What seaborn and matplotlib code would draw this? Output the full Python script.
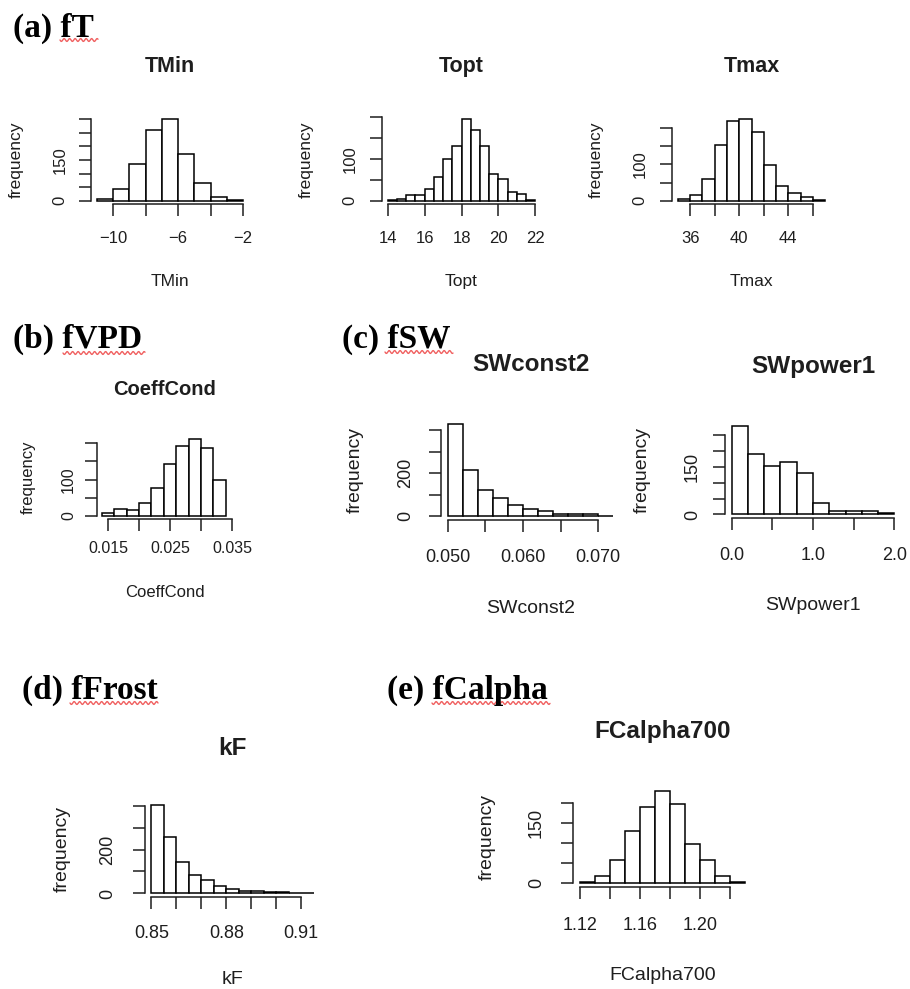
import numpy as np
import matplotlib
matplotlib.use('Agg')
import matplotlib.pyplot as plt
from matplotlib.lines import Line2D
import seaborn as sns

W, H = 910, 989

# ---- data (bin edges + counts) ----
tmin_edges = [-11, -10, -9, -8, -7, -6, -5, -4, -3, -2]
tmin_counts = [8, 42, 135, 259, 300, 172, 66, 13, 3]

topt_edges = [14.0, 14.5, 15.0, 15.5, 16.0, 16.5, 17.0, 17.5, 18.0,
              18.5, 19.0, 19.5, 20.0, 20.5, 21.0, 21.5, 22.0]
topt_counts = [1, 4, 14, 14, 27, 58, 100, 131, 195, 170, 131, 63, 51, 20, 15, 2]

tmax_edges = [35, 36, 37, 38, 39, 40, 41, 42, 43, 44, 45, 46, 47]
tmax_counts = [6, 16, 59, 152, 219, 224, 189, 99, 41, 22, 9, 2]

coeff_edges = [0.014, 0.016, 0.018, 0.020, 0.022, 0.024, 0.026, 0.028, 0.030, 0.032, 0.034]
coeff_counts = [7, 19, 15, 36, 78, 142, 191, 211, 186, 98]

swc_edges = [0.050, 0.052, 0.054, 0.056, 0.058, 0.060, 0.062, 0.064, 0.066, 0.068, 0.070, 0.072]
swc_counts = [430, 216, 122, 86, 52, 34, 25, 12, 12, 10, 3]

swp_edges = [0.0, 0.2, 0.4, 0.6, 0.8, 1.0, 1.2, 1.4, 1.6, 1.8, 2.0]
swp_counts = [280, 190, 153, 166, 129, 37, 11, 11, 11, 4]

kf_edges = [0.850, 0.855, 0.860, 0.865, 0.870, 0.875, 0.880, 0.885,
            0.890, 0.895, 0.900, 0.905, 0.910, 0.915]
kf_counts = [405, 258, 144, 83, 61, 36, 18, 12, 10, 5, 5, 3, 1]

fca_edges = [1.12, 1.13, 1.14, 1.15, 1.16, 1.17, 1.18, 1.19, 1.20, 1.21, 1.22, 1.23]
fca_counts = [2, 19, 58, 131, 190, 232, 198, 98, 58, 19, 2]

# ---- tick positions / labels (R drops labels that would overlap) ----
tmin_xticks = [-10, -8, -6, -4, -2]
tmin_xlabels = ['\u221210', '', '\u22126', '', '\u22122']
tmin_yticks = [0, 50, 100, 150, 200, 250, 300]
tmin_ylabels = ['0', '', '', '150', '', '', '']

topt_xticks = [14, 16, 18, 20, 22]
topt_xlabels = ['14', '16', '18', '20', '22']
topt_yticks = [0, 50, 100, 150, 200]
topt_ylabels = ['0', '', '100', '', '']

tmax_xticks = [36, 38, 40, 42, 44, 46]
tmax_xlabels = ['36', '', '40', '', '44', '']
tmax_yticks = [0, 50, 100, 150, 200]
tmax_ylabels = ['0', '', '100', '', '']

coeff_xticks = [0.015, 0.020, 0.025, 0.030, 0.035]
coeff_xlabels = ['0.015', '', '0.025', '', '0.035']
coeff_yticks = [0, 50, 100, 150, 200]
coeff_ylabels = ['0', '', '100', '', '']

swc_xticks = [0.050, 0.055, 0.060, 0.065, 0.070]
swc_xlabels = ['0.050', '', '0.060', '', '0.070']
swc_yticks = [0, 100, 200, 300, 400]
swc_ylabels = ['0', '', '200', '', '']

swp_xticks = [0.0, 0.5, 1.0, 1.5, 2.0]
swp_xlabels = ['0.0', '', '1.0', '', '2.0']
swp_yticks = [0, 50, 100, 150, 200, 250]
swp_ylabels = ['0', '', '', '150', '', '']

kf_xticks = [0.85, 0.86, 0.87, 0.88, 0.89, 0.90, 0.91]
kf_xlabels = ['0.85', '', '', '0.88', '', '', '0.91']
kf_yticks = [0, 100, 200, 300, 400]
kf_ylabels = ['0', '', '200', '', '']

fca_xticks = [1.12, 1.14, 1.16, 1.18, 1.20, 1.22]
fca_xlabels = ['1.12', '', '1.16', '', '1.20', '']
fca_yticks = [0, 50, 100, 150, 200]
fca_ylabels = ['0', '', '', '150', '']

# ---- layout in pixels: plot box (L, T, R, B) and text anchors ----
panels = [
    dict(name='TMin', edges=tmin_edges, counts=tmin_counts, xt=tmin_xticks, xl=tmin_xlabels,
         yt=tmin_yticks, yl=tmin_ylabels, box=(91, 116, 249, 204),
         title_y=75, xtick_y=240, xlabel_y=282, ylabel_x=16, ytick_x=58, sizes=(15.5, 12, 12.5)),
    dict(name='Topt', edges=topt_edges, counts=topt_counts, xt=topt_xticks, xl=topt_xlabels,
         yt=topt_yticks, yl=topt_ylabels, box=(382, 116, 541, 204),
         title_y=75, xtick_y=240, xlabel_y=282, ylabel_x=306, ytick_x=348, sizes=(15.5, 12, 12.5)),
    dict(name='Tmax', edges=tmax_edges, counts=tmax_counts, xt=tmax_xticks, xl=tmax_xlabels,
         yt=tmax_yticks, yl=tmax_ylabels, box=(672, 116, 831, 204),
         title_y=75, xtick_y=240, xlabel_y=282, ylabel_x=596, ytick_x=638, sizes=(15.5, 12, 12.5)),
    dict(name='CoeffCond', edges=coeff_edges, counts=coeff_counts, xt=coeff_xticks, xl=coeff_xlabels,
         yt=coeff_yticks, yl=coeff_ylabels, box=(97, 436, 232, 519),
         title_y=398, xtick_y=550, xlabel_y=592, ylabel_x=28, ytick_x=67, sizes=(14.5, 11.5, 12)),
    dict(name='SWconst2', edges=swc_edges, counts=swc_counts, xt=swc_xticks, xl=swc_xlabels,
         yt=swc_yticks, yl=swc_ylabels, box=(441, 420, 620, 520),
         title_y=373, xtick_y=559, xlabel_y=609, ylabel_x=355, ytick_x=404, sizes=(17.5, 13, 14)),
    dict(name='SWpower1', edges=swp_edges, counts=swp_counts, xt=swp_xticks, xl=swp_xlabels,
         yt=swp_yticks, yl=swp_ylabels, box=(725, 422, 901, 518),
         title_y=375, xtick_y=557, xlabel_y=605, ylabel_x=642, ytick_x=691, sizes=(17.5, 13, 14)),
    dict(name='kF', edges=kf_edges, counts=kf_counts, xt=kf_xticks, xl=kf_xlabels,
         yt=kf_yticks, yl=kf_ylabels, box=(145, 801, 320, 897),
         title_y=757, xtick_y=935, xlabel_y=980, ylabel_x=62, ytick_x=106, sizes=(17.5, 13, 14)),
    dict(name='FCalpha700', edges=fca_edges, counts=fca_counts, xt=fca_xticks, xl=fca_xlabels,
         yt=fca_yticks, yl=fca_ylabels, box=(573, 787, 752, 887),
         title_y=740, xtick_y=927, xlabel_y=975, ylabel_x=487, ytick_x=535, sizes=(17.5, 13, 14)),
]

# section headings: text, x, baseline y, squiggle x-range, squiggle y
sections = [
    ('(a) fT', 13, 37, (60, 98), 40),
    ('(b) fVPD', 13, 348, (63, 145), 353),
    ('(c) fSW', 342, 348, (385, 453), 352),
    ('(d) fFrost', 22, 699, (70, 158), 703),
    ('(e) fCalpha', 387, 699, (432, 550), 703),
]

sns.set_style('ticks')
plt.rcParams['font.family'] = ['Liberation Sans', 'DejaVu Sans']
INK = '#1e1e1e'
TICK_PX = 12

fig = plt.figure(figsize=(W / 100, H / 100), dpi=100)
fig.patch.set_facecolor('white')

for p in panels:
    L, T, R, B = p['box']
    ax = fig.add_axes([L / W, 1 - B / H, (R - L) / W, (B - T) / H])
    edges, counts = p['edges'], p['counts']
    mids = [(a + b) / 2 for a, b in zip(edges[:-1], edges[1:])]
    sns.histplot(x=mids, weights=counts, bins=edges, ax=ax, color='white',
                 edgecolor='black', linewidth=1.1, alpha=1)

    # R-style 4% axis extension
    span = edges[-1] - edges[0]
    ax.set_xlim(edges[0] - 0.04 * span, edges[-1] + 0.04 * span)
    ymax = max(counts)
    ax.set_ylim(-0.04 * ymax, 1.04 * ymax)

    tsz, ksz, lsz = p['sizes']
    ax.set_xticks(p['xt'])
    ax.set_xticklabels(p['xl'])
    ax.set_yticks(p['yt'])
    ax.set_yticklabels(p['yl'], rotation=90, va='center')
    for s in ['top', 'right']:
        ax.spines[s].set_visible(False)
    ax.spines['bottom'].set_bounds(p['xt'][0], p['xt'][-1])
    ax.spines['left'].set_bounds(p['yt'][0], p['yt'][-1])
    for s in ['bottom', 'left']:
        ax.spines[s].set_color(INK)
        ax.spines[s].set_linewidth(1.1)

    half = ksz * 100 / 72 * 0.56
    ax.tick_params(direction='out', length=TICK_PX * 0.72, width=1.1, color=INK,
                   labelcolor=INK, labelsize=ksz)
    ax.tick_params(axis='x', pad=max(0, (p['xtick_y'] - B - TICK_PX - half) * 0.72))
    ax.tick_params(axis='y', pad=max(0, (L - TICK_PX - p['ytick_x'] - half) * 0.72))

    ax.set_title(p['name'], y=(B - p['title_y']) / (B - T), va='center',
                 fontsize=tsz, fontweight='bold', color=INK)
    ax.set_xlabel(p['name'], fontsize=lsz, color=INK)
    ax.xaxis.set_label_coords(0.5, -(p['xlabel_y'] - B) / (B - T))
    ax.xaxis.label.set_va('center')
    ax.set_ylabel('frequency', fontsize=lsz, color=INK)
    ax.yaxis.set_label_coords(-(L - p['ylabel_x']) / (R - L), 0.5)
    ax.yaxis.label.set_va('center')
    ax.grid(False)

for text, x, y, (sx0, sx1), sy in sections:
    fig.text(x / W, 1 - y / H, text, family=['Liberation Serif', 'DejaVu Serif'],
             fontweight='bold', fontsize=24, va='baseline', ha='left', color='black')
    # spell-check squiggle under the word
    sx = np.linspace(sx0, sx1, 200)
    sy_line = sy + 1.4 * np.sin((sx - sx0) / 5.5 * 2 * np.pi)
    fig.add_artist(Line2D(sx / W, 1 - sy_line / H, transform=fig.transFigure,
                          color='#f06060', linewidth=1.0))

plt.savefig('out.png', dpi=100)
